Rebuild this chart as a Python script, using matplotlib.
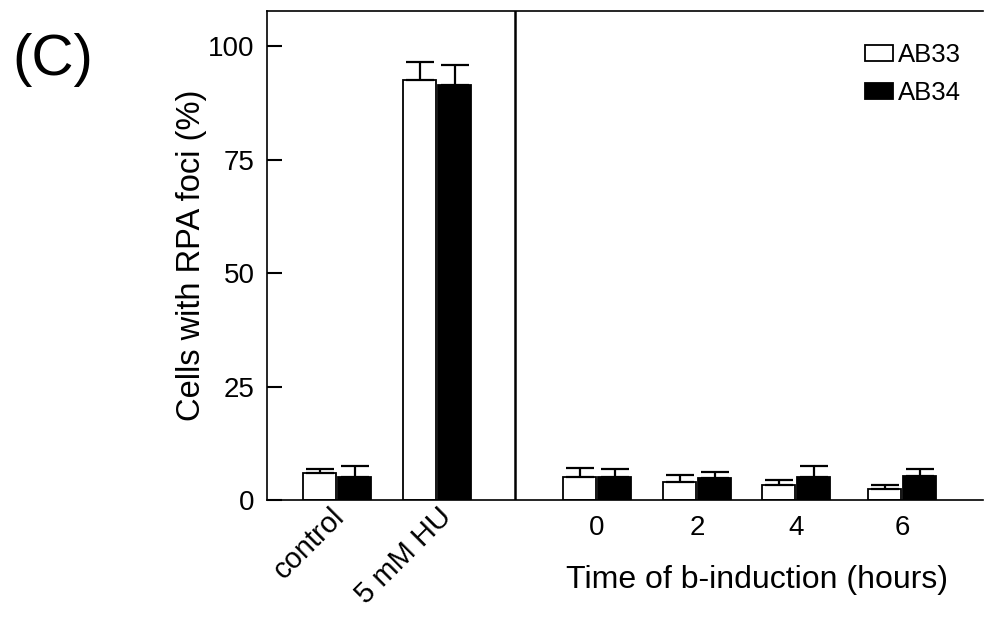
import numpy as np
import matplotlib
matplotlib.use("Agg")
import matplotlib.pyplot as plt

plt.rcParams['font.family'] = ['Liberation Sans', 'DejaVu Sans']

# data
groups = ['control', '5 mM HU', '0', '2', '4', '6']
ab33 = [6.0, 92.5, 5.1, 3.9, 3.2, 2.4]
ab33_err = [0.8, 4.0, 2.0, 1.7, 1.1, 0.8]
ab34 = [5.0, 91.5, 5.0, 4.9, 5.0, 5.4]
ab34_err = [2.4, 4.4, 1.8, 1.3, 2.4, 1.5]
yticks = [0, 25, 50, 75, 100]

# layout: group centres along x
pos = np.array([0, 1, 2.6, 3.6, 4.59, 5.65])
w = 0.33

fig = plt.figure(figsize=(9.85, 6.17), dpi=100)
ax = fig.add_axes([267/985, 117/617, 716/985, 489/617])

ax.bar(pos - 0.172, ab33, w, color='white', edgecolor='black', linewidth=1.3, label='AB33')
ax.bar(pos + 0.177, ab34, w, color='black', edgecolor='black', linewidth=1.3, label='AB34')
ax.errorbar(pos - 0.172, ab33, yerr=[np.zeros(6), ab33_err], fmt='none',
            ecolor='black', elinewidth=1.6, capsize=10, capthick=1.6)
ax.errorbar(pos + 0.177, ab34, yerr=[np.zeros(6), ab34_err], fmt='none',
            ecolor='black', elinewidth=1.6, capsize=10, capthick=1.6)

ax.set_xlim(-0.70, 6.46)
ax.set_ylim(0, 107.8)
ax.axvline(1.78, color='black', linewidth=1.8)

ax.spines['right'].set_visible(False)
for s in ['left', 'top', 'bottom']:
    ax.spines[s].set_linewidth(1.2)

ax.set_yticks(yticks)
ax.tick_params(axis='y', direction='in', length=11, width=1.5, labelsize=20, pad=9)
ax.set_xticks(pos[2:])
ax.set_xticklabels(groups[2:])
ax.tick_params(axis='x', length=0, labelsize=20, pad=11)

for p, name, dx in zip(pos[:2], groups[:2], [-0.07, 0.0]):
    ax.text(p + dx, -0.6, name, rotation=45, ha='right', va='top',
            rotation_mode='anchor', fontsize=21)

ax.set_ylabel('Cells with RPA foci (%)', fontsize=23.5, labelpad=1)
ax.text(4.2, -17.6, 'Time of b-induction (hours)', ha='center', va='center', fontsize=23)

fig.text(12/985, 1 - 60/617, '(C)', fontsize=42, va='center', ha='left')

ax.legend(loc='upper left', bbox_to_anchor=(865/985, 1 - 43/617),
          bbox_transform=fig.transFigure, frameon=False, fontsize=18.5,
          handlelength=1.1, handleheight=0.6, handletextpad=0.2,
          labelspacing=0.55, borderpad=0, borderaxespad=0)

fig.savefig('out.png', dpi=100)
